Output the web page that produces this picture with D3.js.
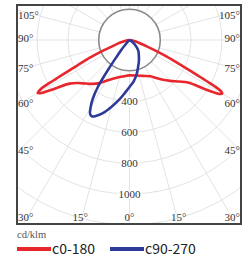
<!DOCTYPE html>
<html>
<head>
<meta charset="utf-8">
<script src="https://cdn.jsdelivr.net/npm/d3@7"></script>
<style>
  body { margin: 0; background: #fff; }
  svg { display: block; }
</style>
</head>
<body>
<svg width="248" height="262"></svg>
<script>
// gamma angles (deg from nadir) and intensities, cd/klm
var redAngles = [0, 10, 20, 30, 35, 40, 45, 50, 54, 57, 59, 60, 61, 62, 63, 64, 66, 68, 70, 75, 80, 90];
var c0 = [230, 234, 248, 272, 302, 337, 375, 420, 470, 590, 680, 695, 670, 560, 450, 370, 265, 175, 115, 55, 25, 0];
var c180 = [230, 240, 262, 308, 342, 372, 400, 435, 482, 580, 668, 688, 660, 560, 455, 378, 275, 185, 120, 58, 25, 0];
var blueAngles = [-90, -50, -44, -40, -38, -36, -34, -32, -30, -28, -26, -24, -20, -15, -10, -5, 0, 6, 12, 18, 24, 30, 40, 50, 60, 90];
var c90 = [0, 8, 20, 80, 120, 220, 366, 450, 505, 545, 552, 540, 505, 448, 395, 345, 305, 268, 225, 182, 150, 122, 88, 45, 15, 0];
var ringValues = [200, 400, 600, 800, 1000, 1200, 1400];
var ringLabels = ["400", "600", "800", "1000"];
var sideAngles = [105, 90, 75, 60, 45];
var bottomAngles = [-30, -15, 0, 15, 30];
var seriesNames = ["c0-180", "c90-270"];
var seriesColors = ["#e8262d", "#2e3a97"];

var svg = d3.select("svg");
var box = { x: 17, y: 5, w: 224, h: 219 };
var cx = 129.5, cy = 40;
var r = d3.scaleLinear().domain([0, 1000]).range([0, 154]);
var rad = Math.PI / 180;

svg.append("clipPath").attr("id", "clip")
  .append("rect").attr("x", box.x).attr("y", box.y).attr("width", box.w).attr("height", box.h);

var plot = svg.append("g").attr("clip-path", "url(#clip)");
var g = plot.append("g").attr("transform", "translate(" + cx + "," + cy + ")");

// spokes every 15 degrees, starting at the 200 ring
var spokes = d3.range(0, 360, 15);
g.selectAll("line.spoke")
  .data(spokes)
  .enter().append("line")
  .attr("class", "spoke")
  .attr("x1", function (d) { return r(200) * Math.sin(d * rad); })
  .attr("y1", function (d) { return r(200) * Math.cos(d * rad); })
  .attr("x2", function (d) { return 400 * Math.sin(d * rad); })
  .attr("y2", function (d) { return 400 * Math.cos(d * rad); })
  .attr("stroke", "#e3e3e3")
  .attr("stroke-width", 1);

g.selectAll("circle.ring")
  .data(ringValues)
  .enter().append("circle")
  .attr("class", "ring")
  .attr("r", function (d) { return r(d); })
  .attr("fill", "none")
  .attr("stroke", function (d) { return d == 200 ? "#8a8a8a" : "#e3e3e3"; })
  .attr("stroke-width", function (d) { return d == 200 ? 1.6 : 1; });

// ring labels on the 0 deg spoke
g.selectAll("text.ring")
  .data(ringLabels)
  .enter().append("text")
  .attr("x", 0)
  .attr("y", function (d) { return r(+d); })
  .attr("dy", "0.35em")
  .attr("text-anchor", "middle")
  .attr("font-family", "Liberation Serif, DejaVu Serif, serif")
  .attr("font-size", 11)
  .attr("fill", "#333")
  .attr("stroke", "#fff")
  .attr("stroke-width", 3)
  .attr("paint-order", "stroke")
  .text(function (d) { return d; });

// curves
var radial = d3.lineRadial()
  .angle(function (d) { return Math.PI - d[0] * rad; })
  .radius(function (d) { return r(d[1]); })
  .curve(d3.curveCatmullRom.alpha(0.5));

var redPts = [];
for (var i = redAngles.length - 1; i > 0; i--) redPts.push([-redAngles[i], c180[i]]);
for (var i = 0; i < redAngles.length; i++) redPts.push([redAngles[i], c0[i]]);
var bluePts = blueAngles.map(function (a, i) { return [a, c90[i]]; });

g.append("path")
  .attr("d", radial(redPts))
  .attr("fill", "none")
  .attr("stroke", seriesColors[0])
  .attr("stroke-width", 2.6)
  .attr("stroke-linejoin", "round");

g.append("path")
  .attr("d", radial(bluePts))
  .attr("fill", "none")
  .attr("stroke", seriesColors[1])
  .attr("stroke-width", 2.6)
  .attr("stroke-linejoin", "round");

// frame
svg.append("rect")
  .attr("x", box.x).attr("y", box.y).attr("width", box.w).attr("height", box.h)
  .attr("fill", "none")
  .attr("stroke", "#444")
  .attr("stroke-width", 2);

// angle labels on sides
var lab = svg.append("g")
  .attr("font-family", "Liberation Serif, DejaVu Serif, serif")
  .attr("font-size", 11)
  .attr("fill", "#333");

sideAngles.forEach(function (a) {
  var y = cy + (cx - box.x) / Math.tan(a * rad) - 2;
  if (y < 15) y = 15;
  lab.append("text").attr("x", box.x + 1).attr("y", y).attr("dy", "0.35em")
    .text(a + "\u00b0");
  lab.append("text").attr("x", box.x + box.w - 1).attr("y", y).attr("dy", "0.35em")
    .attr("text-anchor", "end").text(a + "\u00b0");
});

bottomAngles.forEach(function (a) {
  var x = cx + (box.y + box.h - cy) * Math.tan(a * rad);
  var anchor = "middle";
  if (x < box.x + 8) { x = box.x + 1; anchor = "start"; }
  if (x > box.x + box.w - 8) { x = box.x + box.w - 1; anchor = "end"; }
  lab.append("text").attr("x", x).attr("y", 221).attr("text-anchor", anchor)
    .text(Math.abs(a) + "\u00b0");
});

// legend
svg.append("text")
  .attr("x", 17).attr("y", 238)
  .attr("font-family", "Liberation Serif, DejaVu Serif, serif")
  .attr("font-size", 10.5)
  .attr("fill", "#555")
  .text("cd/klm");

var legX = [17, 110];
seriesNames.forEach(function (name, i) {
  svg.append("line")
    .attr("x1", legX[i]).attr("x2", legX[i] + 34)
    .attr("y1", 249).attr("y2", 249)
    .attr("stroke", seriesColors[i])
    .attr("stroke-width", 4);
  svg.append("text")
    .attr("x", legX[i] + 35).attr("y", 254)
    .attr("font-family", "Noto Sans CJK SC, Noto Sans, sans-serif")
    .attr("font-size", 14)
    .attr("fill", "#222")
    .text(name);
});
</script>
</body>
</html>
